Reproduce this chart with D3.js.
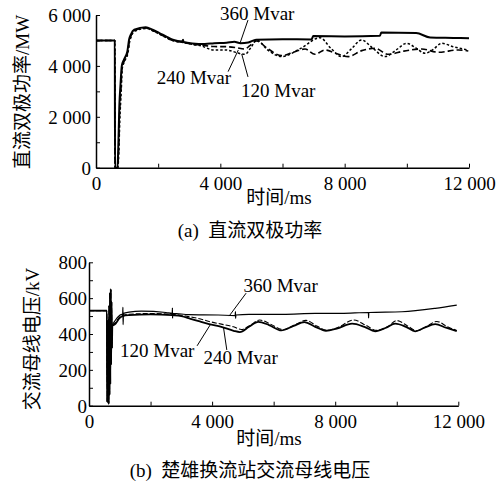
<!DOCTYPE html>
<html>
<head>
<meta charset="utf-8">
<script src="https://d3js.org/d3.v7.min.js"></script>
<style>
  body { margin: 0; background: #fff; }
  svg { display: block; }
  text { font-family: "Liberation Serif", "Noto Sans CJK SC", serif; fill: #000; }
</style>
</head>
<body>
<svg id="chart" width="497" height="481"></svg>
<script>
// ---- data: (a) DC bipole power, MW ----
const dcTicks = [0, 1000, 2000, 3000, 4000, 5000, 6000];
const timeTicks = [0, 2000, 4000, 6000, 8000, 10000, 12000];

const dc360 = [[0,5000],[605,5000],[612,0],[690,0],[715,700],[750,2400],[790,3300],[830,4000],[900,4250],[1010,4580],[1065,5040],[1120,5230],[1230,5420],[1600,5520],[1820,5420],[2040,5290],[2250,5160],[2470,5030],[2780,4960],[2800,5030],[2815,4940],[3100,4880],[3500,4860],[3800,4890],[4200,4910],[4450,4950],[4650,4890],[4900,4920],[5150,5030],[6000,5050],[6930,5040],[6990,5170],[8000,5160],[9130,5180],[9180,5310],[10300,5290],[10750,5120],[11500,5100],[12000,5085]];
const dc240 = [[0,5000],[605,5000],[612,0],[700,0],[725,600],[760,2200],[800,3050],[840,3950],[915,4200],[1020,4540],[1075,4990],[1130,5190],[1240,5390],[1610,5490],[1830,5390],[2040,5260],[2250,5130],[2470,5000],[2790,4930],[3110,4850],[3350,4830],[3800,4760],[4150,4757],[4500,4720],[4793,4665],[4950,4800],[5169,4979],[5500,4700],[5973,4404],[6400,4560],[6724,4665],[7045,4456],[7367,4626],[7700,4500],[8117,4365],[8550,4600],[8975,4691],[9404,4456],[9900,4580],[10477,4665],[11013,4535],[11656,4626],[11978,4587]];
const dc120 = [[0,5000],[605,5000],[612,0],[705,0],[730,500],[770,2000],[810,2950],[845,3900],[920,4180],[1030,4520],[1085,4960],[1140,5170],[1250,5370],[1620,5470],[1840,5370],[2050,5240],[2260,5110],[2480,4990],[2800,4920],[3120,4840],[3350,4800],[3800,4620],[4150,4626],[4793,4456],[5000,4750],[5169,5018],[5500,4650],[5973,4365],[6600,4700],[7206,5109],[7550,4700],[7903,4365],[8200,4650],[8546,5018],[8900,4700],[9297,4365],[9650,4620],[9994,4887],[10300,4700],[10584,4495],[10850,4650],[11120,4887],[11500,4750],[11978,4626]];

// ---- data: (b) AC bus voltage, kV ----
const kvTicks = [0, 100, 200, 300, 400, 500, 600, 700, 800];
const faultKv = [[580,530],[592,20],[605,320],[615,30],[628,480],[640,10],[655,560],[668,60],[682,630],[694,120],[708,650],[720,230],[733,580],[745,320],[758,445]];
const kv360 = [[0,530]].concat(faultKv, [[850,475],[1000,505],[1095,512],[1102,548],[1108,452],[1120,515],[1300,522],[1700,528],[2500,520],[2705,515],[2710,545],[2716,488],[2722,515],[3250,508],[4200,506],[4750,503],[4758,525],[4764,488],[4772,506],[5200,510],[6300,510],[7350,515],[8200,515],[9080,520],[9085,490],[9092,520],[10170,524],[11250,543],[11950,561]]);
const kv240 = [[0,530]].concat(faultKv, [[850,455],[1000,490],[1100,500],[1300,505],[2000,510],[2700,505],[3000,500],[3300,485],[3600,470],[3900,455],[4300,440],[4700,418],[4900,411],[5200,440],[5500,468],[5850,450],[6250,420],[6650,445],[7000,466],[7350,440],[7700,418],[8050,430],[8550,458],[8950,440],[9300,415],[9650,435],[9950,458],[10300,440],[10600,415],[10900,435],[11250,455],[11600,435],[11950,416]]);
const kv120 = [[0,530]].concat(faultKv, [[850,462],[1000,495],[1100,505],[1300,510],[2000,514],[2700,510],[3000,505],[3300,495],[3600,485],[3900,470],[4300,455],[4700,440],[4950,425],[5250,450],[5550,478],[5900,455],[6300,425],[6700,452],[7050,476],[7400,445],[7750,420],[8100,438],[8600,478],[9000,448],[9350,420],[9700,440],[10000,475],[10350,445],[10650,418],[10950,440],[11300,470],[11650,440],[11950,420]]);

// annotation labels in data units: [text, t, value, leader from, leader to]
const notesA = [
  ["360 Mvar", 3989, 6076, [4890,5800], [4633,4890]],
  ["240 Mvar", 1952, 3567, [4250,3775], [4578,4625]],
  ["120 Mvar", 4665, 3058, [4890,3567], [4687,4469]]
];
const notesB = [
  ["360 Mvar", 5018, 673, [5106,628], [4553,500]],
  ["120 Mvar", 1008, 311, [3512,334], [3935,450]],
  ["240 Mvar", 3717, 269, [4478,311], [4368,439]]
];

const fmt = d3.formatLocale({decimal: ".", thousands: " ", grouping: [3], currency: ["", ""]}).format(",");
const svg = d3.select("#chart");

function panel(o) {
  const x = d3.scaleLinear([0, 12000], o.xr);
  const y = d3.scaleLinear(o.yd, o.yr);
  const g = svg.append("g");

  const ax = g.append("g").attr("transform", `translate(0,${o.yr[0]})`)
    .call(d3.axisBottom(x).tickValues(timeTicks).tickSize(-4).tickSizeOuter(0).tickPadding(5)
      .tickFormat(d => d % 4000 === 0 ? fmt(d) : ""));
  const ay = g.append("g").attr("transform", `translate(${o.xr[0]},0)`)
    .call(d3.axisLeft(y).tickValues(o.yTicks).tickSize(-4).tickSizeOuter(0).tickPadding(o.pad)
      .tickFormat(d => d % o.major === 0 ? fmt(d) : ""));
  [ax, ay].forEach(a => {
    a.select(".domain").attr("stroke", "#000").attr("stroke-width", 1.5);
    a.selectAll(".tick line").attr("stroke", "#000").attr("stroke-width", 1);
    a.selectAll(".tick text").attr("font-size", 19).attr("font-family", null);
  });
  ay.selectAll(".tick text").attr("dy", "0.34em");
  ax.selectAll(".tick text").attr("dy", "0.9em");

  const line = d3.line().x(d => x(d[0])).y(d => y(d[1])).curve(d3.curveMonotoneX);
  o.series.forEach(s => {
    g.append("path").datum(s.data).attr("d", line).attr("fill", "none")
      .attr("stroke", "#000").attr("stroke-width", s.w)
      .attr("stroke-dasharray", s.dash || null).attr("stroke-linejoin", "round");
  });

  o.notes.forEach(n => {
    g.append("text").attr("x", x(n[1])).attr("y", y(n[2])).attr("dy", "0.35em")
      .attr("font-size", 19).text(n[0]);
    g.append("line").attr("x1", x(n[3][0])).attr("y1", y(n[3][1]))
      .attr("x2", x(n[4][0])).attr("y2", y(n[4][1])).attr("stroke", "#000").attr("stroke-width", 1);
  });

  g.append("text").attr("transform", `translate(${o.ylab[0]},${o.ylab[1]}) rotate(-90)`)
    .attr("text-anchor", "middle").attr("dy", "0.35em").attr("font-size", 19).text(o.ytitle);
  g.append("text").attr("x", o.xlab[0]).attr("y", o.xlab[1]).attr("text-anchor", "middle")
    .attr("dy", "0.35em").attr("font-size", 19).text("时间/ms");
  g.append("text").attr("x", o.cap[0]).attr("y", o.cap[1]).attr("text-anchor", "middle")
    .attr("dy", "0.35em").attr("font-size", 19).attr("xml:space", "preserve").text(o.caption);
}

panel({
  xr: [96, 469], yd: [0, 6000], yr: [167.7, 15], yTicks: dcTicks, major: 2000, pad: 5,
  series: [{data: dc240, w: 1.6, dash: "6,3"}, {data: dc120, w: 1.5, dash: "2.5,2"}, {data: dc360, w: 2}],
  notes: notesA, ytitle: "直流双极功率/MW", ylab: [22, 92], xlab: [279, 197],
  cap: [250, 230], caption: "(a)  直流双极功率"
});

panel({
  xr: [89, 458.3], yd: [0, 800], yr: [405.7, 262.3], yTicks: kvTicks, major: 200, pad: 2,
  series: [{data: kv120, w: 1.1, dash: "5,2"}, {data: kv240, w: 1.8}, {data: kv360, w: 1.2}],
  notes: notesB, ytitle: "交流母线电压/kV", ylab: [32, 339], xlab: [269, 438],
  cap: [250, 470], caption: "(b)  楚雄换流站交流母线电压"
});
</script>
</body>
</html>
